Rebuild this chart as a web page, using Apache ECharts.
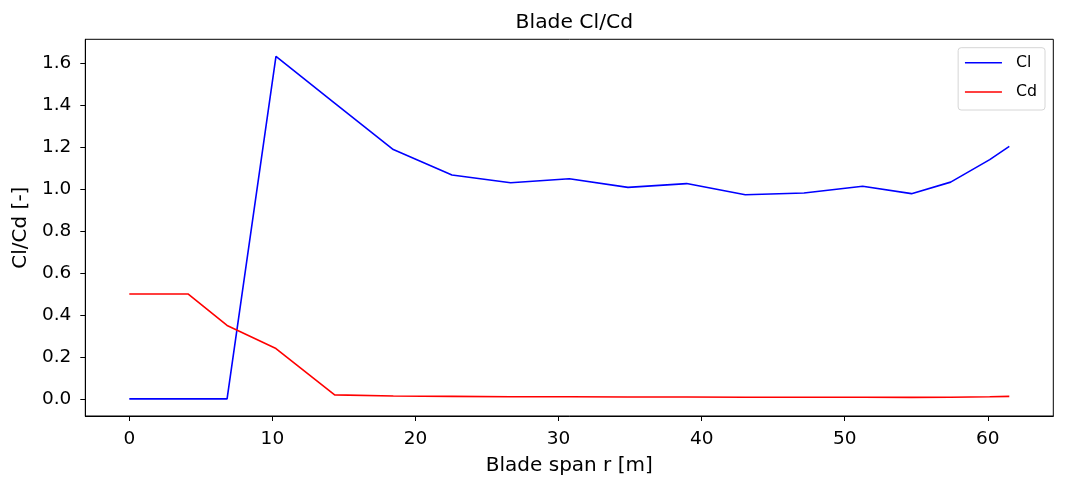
<!DOCTYPE html>
<html>
<head>
<meta charset="utf-8">
<script src="https://cdn.jsdelivr.net/npm/echarts@6/dist/echarts.min.js"></script>
<style>
html,body{margin:0;padding:0;background:#fff;}
#chart{width:1065px;height:488px;}
</style>
</head>
<body>
<div id="chart"></div>
<script>
const spanR = [0, 1.3667, 4.1, 6.8333, 10.25, 14.35, 18.45, 22.55, 26.65, 30.75, 34.85, 38.95, 43.05, 47.15, 51.25, 54.6667, 57.4, 60.1333, 61.5];
const clValues = [0, 0, 0, 0, 1.632, 1.41, 1.188, 1.067, 1.030, 1.049, 1.008, 1.026, 0.973, 0.981, 1.013, 0.978, 1.033, 1.14, 1.203];
const cdValues = [0.5, 0.5, 0.5, 0.35, 0.24, 0.019, 0.014, 0.012, 0.010, 0.010, 0.009, 0.009, 0.008, 0.008, 0.008, 0.007, 0.008, 0.010, 0.012];
const xTicks = [0, 10, 20, 30, 40, 50, 60];
const yTicks = [0, 0.2, 0.4, 0.6, 0.8, 1.0, 1.2, 1.4, 1.6];

const FONT = 'DejaVu Sans';
const pairs = (xs, ys) => xs.map((x, i) => [x, ys[i]]);
const xMin = -0.05 * 61.5, xMax = 61.5 * 1.05;
const yMin = -0.05 * 1.632, yMax = 1.632 * 1.05;

const chart = echarts.init(document.getElementById('chart'), null, {renderer: 'canvas'});
chart.setOption({
  animation: false,
  backgroundColor: '#ffffff',
  textStyle: {fontFamily: FONT, color: '#000'},
  title: {
    text: 'Blade Cl/Cd',
    left: 569.3, textAlign: 'center', top: 8,
    textStyle: {fontFamily: FONT, fontSize: 20.3, fontWeight: 'normal', color: '#000'}
  },
  grid: {
    left: 85.3, right: 11.7, top: 39.3, bottom: 72,
    show: true, borderColor: '#000', borderWidth: 1, backgroundColor: 'transparent'
  },
  legend: {
    orient: 'vertical', right: 20, top: 47.7,
    data: ['Cl', 'Cd'],
    itemWidth: 37, itemHeight: 14, itemGap: 13.3,
    padding: [7, 8, 10, 6],
    borderColor: '#d6d6d6', borderWidth: 1, borderRadius: 3,
    backgroundColor: 'rgba(255,255,255,0.8)',
    itemStyle: {opacity: 0},
    lineStyle: {width: 1.6},
    textStyle: {fontFamily: FONT, fontSize: 15.8, color: '#000', padding: [0, 0, 0, 9]}
  },
  xAxis: {
    type: 'value', min: xMin, max: xMax,
    name: 'Blade span r [m]', nameLocation: 'middle', nameGap: 40,
    nameTextStyle: {fontFamily: FONT, fontSize: 20, color: '#000'},
    axisLine: {show: true, onZero: false, lineStyle: {color: '#000', width: 1}},
    axisTick: {show: true, inside: false, length: 5, customValues: xTicks, lineStyle: {color: '#000'}},
    axisLabel: {customValues: xTicks, margin: 14, fontFamily: FONT, fontSize: 18.5, color: '#000',
      formatter: v => String(Math.round(v))},
    splitLine: {show: false}
  },
  yAxis: {
    type: 'value', min: yMin, max: yMax,
    name: 'Cl/Cd [-]', nameLocation: 'middle', nameGap: 55, nameRotate: 90,
    nameTextStyle: {fontFamily: FONT, fontSize: 20, color: '#000'},
    axisLine: {show: true, onZero: false, lineStyle: {color: '#000', width: 1}},
    axisTick: {show: true, inside: false, length: 5, customValues: yTicks, lineStyle: {color: '#000'}},
    axisLabel: {customValues: yTicks, margin: 14, fontFamily: FONT, fontSize: 18.5, color: '#000',
      formatter: v => v.toFixed(1)},
    splitLine: {show: false}
  },
  series: [
    {name: 'Cl', type: 'line', data: pairs(spanR, clValues), symbol: 'none', showSymbol: false,
      lineStyle: {color: '#0000ff', width: 1.6}, itemStyle: {color: '#0000ff'}},
    {name: 'Cd', type: 'line', data: pairs(spanR, cdValues), symbol: 'none', showSymbol: false,
      lineStyle: {color: '#ff0000', width: 1.6}, itemStyle: {color: '#ff0000'}}
  ]
});
</script>
</body>
</html>
